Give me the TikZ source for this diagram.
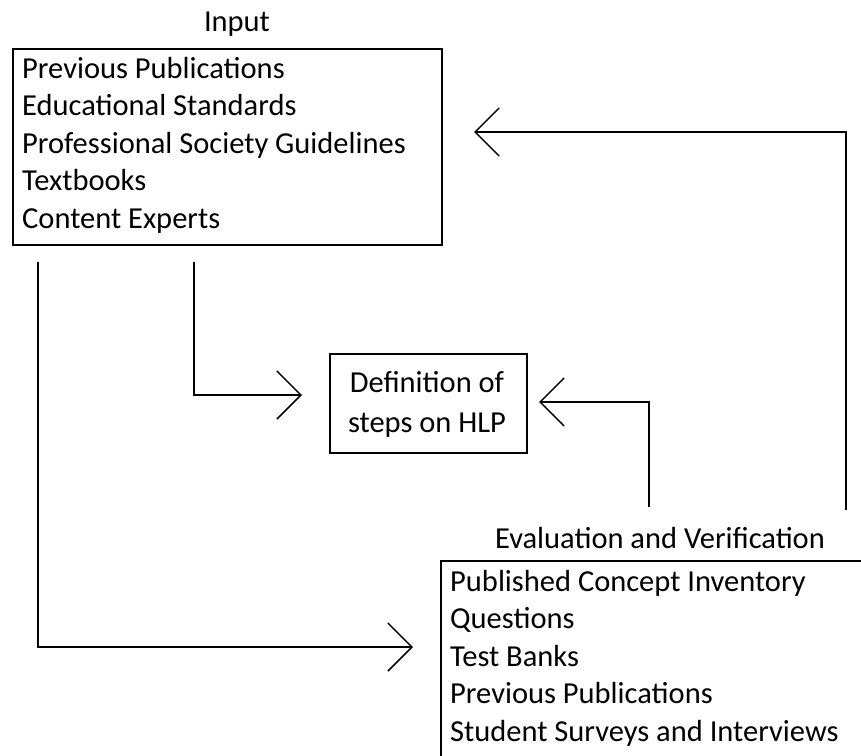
\documentclass[tikz,border=0pt]{standalone}
\usepackage{fontspec}
\setmainfont{Carlito}
\usetikzlibrary{arrows.meta}
\begin{document}
\begin{tikzpicture}[x=1pt,y=-1pt,
  every node/.style={font=\fontsize{30.5}{37.5}\selectfont, inner sep=0pt},
  box/.style={draw, line width=1.5pt},
  listtext/.style={align=left, anchor=west},
  arr/.style={line width=1.5pt, -{Straight Barb[length=24pt,width=48pt,line width=1.5pt]}}
]
\useasboundingbox (0,0) rectangle (861,755);
\clip (0,0) rectangle (861,755);
% titles
\node (intitle) at (237,24) {Input};
\node (evtitle) at (660,538) {Evaluation and Verification};
% input box
\node[box, anchor=north west, minimum width=429pt, minimum height=196pt] (inbox) at (12,48) {};
\node[listtext] (intext) at (22,145) {Previous Publications\\Educational Standards\\Professional Society Guidelines\\Textbooks\\Content Experts};
% HLP box
\node[box, anchor=north west, minimum width=197pt, minimum height=99pt] (hlp) at (329,353) {};
\node[align=center, font=\fontsize{30.5}{40}\selectfont] (hlptext) at (427,404) {Definition of\\steps on HLP};
% evaluation box
\node[box, anchor=north west, minimum width=440pt, minimum height=230pt] (evbox) at (440,560) {};
\node[listtext] (evtext) at (450,658) {Published Concept Inventory\\Questions\\Test Banks\\Previous Publications\\Student Surveys and Interviews};
% connector end points
\coordinate (s1) at (194,262);
\coordinate (s2) at (649,507);
\coordinate (s3) at (846,510);
\coordinate (s4) at (38,262);
\coordinate (t1) at (302,395);
\coordinate (t2) at (539,402);
\coordinate (t3) at (474,132);
\coordinate (t4) at (413,647);
% connectors
\draw[arr] (s1) |- (t1);
\draw[arr] (s2) |- (t2);
\draw[arr] (s3) |- (t3);
\draw[arr] (s4) |- (t4);
\end{tikzpicture}
\end{document}
